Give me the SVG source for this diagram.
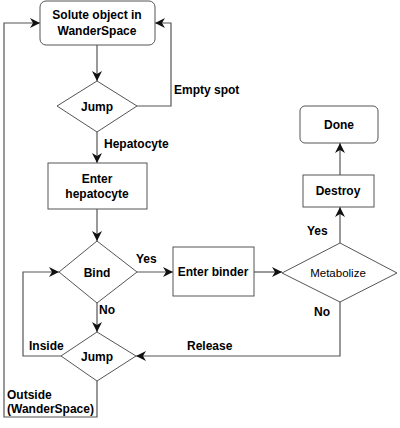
<svg xmlns="http://www.w3.org/2000/svg" width="400" height="428" viewBox="0 0 400 428">
<defs>
<marker id="ah" viewBox="0 0 10 10" refX="10" refY="5" markerWidth="10" markerHeight="10" markerUnits="userSpaceOnUse" orient="auto">
<path d="M0,0 L10,5 L0,10 L3,5 z" fill="#111"/>
</marker>
<style>
.n{fill:#fff;stroke:#555;stroke-width:1}
.c{fill:none;stroke:#555;stroke-width:1.2}
.t{font-family:"Liberation Sans",Arial,sans-serif;font-size:12px;font-weight:bold;fill:#000}
.m{text-anchor:middle}
</style>
</defs>
<rect width="400" height="428" fill="#fff"/>
<g id="connectors">
<path class="c" d="M97,45 V81" marker-end="url(#ah)"/>
<path class="c" d="M137,106 H171 V23 H155" marker-end="url(#ah)"/>
<path class="c" d="M97,132 V163" marker-end="url(#ah)"/>
<path class="c" d="M97,209 V241" marker-end="url(#ah)"/>
<path class="c" d="M137,272 H173" marker-end="url(#ah)"/>
<path class="c" d="M254,272 H282" marker-end="url(#ah)"/>
<path class="c" d="M340,243 V207" marker-end="url(#ah)"/>
<path class="c" d="M340,175 V143" marker-end="url(#ah)"/>
<path class="c" d="M97,303 V332" marker-end="url(#ah)"/>
<path class="c" d="M340,302 V356 H136" marker-end="url(#ah)"/>
<path class="c" d="M61,356 H23 V272 H59" marker-end="url(#ah)"/>
<path class="c" d="M97,381 V417 H4 V23 H40" marker-end="url(#ah)"/>
<text class="t" x="174" y="94">Empty spot</text>
<text class="t" x="104" y="148">Hepatocyte</text>
<text class="t" x="136" y="263">Yes</text>
<text class="t" x="99" y="314">No</text>
<text class="t" x="307" y="235">Yes</text>
<text class="t" x="314" y="316">No</text>
<text class="t" x="187" y="350">Release</text>
<text class="t" x="29" y="350">Inside</text>
<text class="t" x="7" y="399">Outside</text>
<text class="t" x="7" y="413">(WanderSpace)</text>
</g>
<g id="solute">
<rect class="n" x="40" y="1" width="115" height="44" rx="6"/>
<text class="t m" x="97" y="19">Solute object in</text>
<text class="t m" x="97" y="35">WanderSpace</text>
</g>
<g id="jump1">
<polygon class="n" points="97,81 137,106 97,132 57,106"/>
<text class="t m" x="97" y="111">Jump</text>
</g>
<g id="enterHepatocyte">
<rect class="n" x="48" y="163" width="99" height="46"/>
<text class="t m" x="97" y="183">Enter</text>
<text class="t m" x="97" y="198">hepatocyte</text>
</g>
<g id="bind">
<polygon class="n" points="97,241 137,272 97,303 59,272"/>
<text class="t m" x="97" y="277">Bind</text>
</g>
<g id="enterBinder">
<rect class="n" x="173" y="247" width="81" height="49"/>
<text class="t m" x="213" y="276">Enter binder</text>
</g>
<g id="metabolize">
<polygon class="n" points="340,243 397,273 340,302 282,273"/>
<text class="t m" x="338" y="277" style="font-size:11.5px;font-weight:normal">Metabolize</text>
</g>
<g id="destroy">
<rect class="n" x="303" y="175" width="71" height="32"/>
<text class="t m" x="338" y="195">Destroy</text>
</g>
<g id="done">
<rect class="n" x="300" y="106" width="78" height="37" rx="5"/>
<text class="t m" x="339" y="129">Done</text>
</g>
<g id="jump2">
<polygon class="n" points="97,332 136,356 97,381 61,356"/>
<text class="t m" x="97" y="361">Jump</text>
</g>
</svg>
